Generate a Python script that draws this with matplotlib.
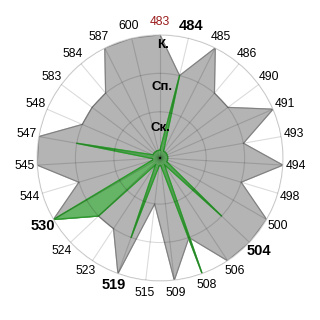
import numpy as np
import matplotlib.pyplot as plt

# categorias (sentido horário a partir do topo)
categorias = ["483", "484", "485", "486", "490", "491", "493", "494", "498",
              "500", "504", "506", "508", "509", "515", "519", "523", "524",
              "530", "544", "545", "547", "548", "583", "584", "587", "600"]
nivel_max = [3, 2, 3, 2, 2, 3, 2, 3, 2,
             3, 3, 3, 2, 3, 1, 3, 2, 2,
             3, 2, 3, 3, 2, 2, 2, 3, 3]
nivel_atual = [0, 2, 0, 0, 0, 0, 0, 0, 0,
               0, 2, 0, 3, 0, 0, 2, 0, 2,
               3, 0, 0, 2, 0, 0, 0, 0, 0]
destaque = ["484", "504", "519", "530"]
vermelho = ["483"]
niveis = ["Ск.", "Сп.", "К."]
niveis_pos = [0.58, 1.65, 2.74]

plt.rcParams["font.family"] = ["Liberation Sans", "DejaVu Sans"]

n = len(categorias)
angulos = np.linspace(0, 2 * np.pi, n, endpoint=False)
ang_f = np.append(angulos, angulos[0])
mx = np.append(nivel_max, nivel_max[0])
at = np.append(nivel_atual, nivel_atual[0])

fig = plt.figure(figsize=(3.2, 3.2), dpi=100)
ax = fig.add_axes([0.1156, 0.1219, 0.769, 0.769], projection="polar")
ax.set_theta_zero_location("N")
ax.set_theta_direction(-1)
ax.set_ylim(-0.2, 3)

ax.fill(ang_f, mx, color="#b4b4b4", zorder=1)
ax.plot(ang_f, mx, color="#808080", linewidth=0.8, zorder=1.5)
ax.fill(ang_f, at, color="#66b466", zorder=1.6)
ax.plot(ang_f, at, color="#2e9a2e", linewidth=1.0, zorder=1.7)

ax.set_xticks(angulos)
ax.set_xticklabels([])
ax.set_yticks([1, 2, 3])
ax.set_yticklabels([])
ax.grid(True, color="black", alpha=0.14, linewidth=0.8)
ax.set_axisbelow(False)
ax.spines["polar"].set_color("#dcdcdc")
ax.spines["polar"].set_linewidth(0.8)

for a, cat in zip(angulos, categorias):
    if cat in destaque:
        ax.text(a, 3.33, cat, ha="center", va="center", fontsize=10.5,
                fontweight="bold", color="black")
    elif cat in vermelho:
        ax.text(a, 3.33, cat, ha="center", va="center", fontsize=8.7,
                color="#9b1c1c")
    else:
        ax.text(a, 3.33, cat, ha="center", va="center", fontsize=8.7,
                color="black")

for r, nome in zip(niveis_pos, niveis):
    ax.text(0.03, r, nome, ha="center", va="center", fontsize=9.5,
            fontweight="bold", color="black", zorder=5)

plt.savefig("out.png", dpi=100)
